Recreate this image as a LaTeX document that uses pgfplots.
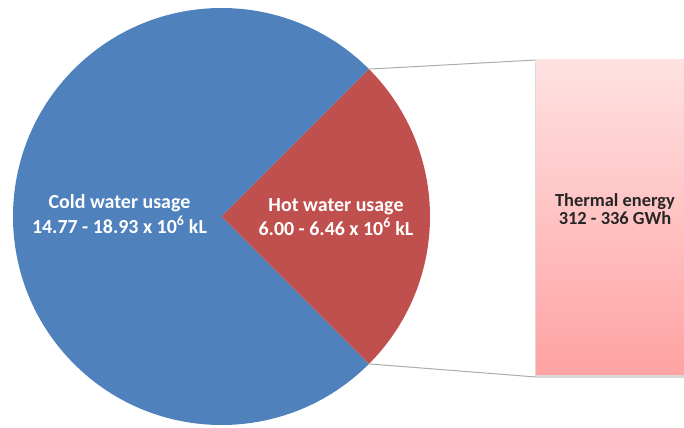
\documentclass[border=0pt]{standalone}
\usepackage{pgfplots}
\pgfplotsset{compat=1.18}
\usepackage{fontspec}
\setmainfont{Carlito}

\definecolor{coldblue}{HTML}{4F81BD}
\definecolor{hotred}{HTML}{C0504D}
\definecolor{bartop}{HTML}{FFE2E2}
\definecolor{barbot}{HTML}{FFA2A2}

% pie shares in percent
\def\coldshare{75}
\def\hotshare{25}
% pie geometry (bp)
\def\cx{221.5}
\def\cy{211.5}
\def\rad{208.5}

\begin{document}
\begin{tikzpicture}
\useasboundingbox (0,0) rectangle (684bp,428bp);
\begin{axis}[x=1bp, y=1bp, xmin=0, xmax=684, ymin=0, ymax=428,
  hide axis, clip=false]

  \pgfmathsetmacro{\ha}{\hotshare*3.6/2}
  \pgfmathsetmacro{\ca}{360-\ha}
  % cold water slice
  \fill[coldblue] (axis cs:\cx,\cy) -- ++(\ha:\rad bp)
    arc[start angle=\ha, end angle=\ca, radius=\rad bp] -- cycle;
  % hot water slice
  \fill[hotred] (axis cs:\cx,\cy) -- ++(-\ha:\rad bp)
    arc[start angle=-\ha, end angle=\ha, radius=\rad bp] -- cycle;

  % connectors to the bar
  \addplot[gray!65, line width=1bp] coordinates {(368.9,358.9) (536,368)};
  \addplot[gray!65, line width=1bp] coordinates {(368.9,64.1) (536,51)};

  % bar shadow and bar
  \addplot[draw=none, fill=black!22, opacity=0.7]
    coordinates {(534.5,50) (690,50) (690,366) (534.5,366)} -- cycle;
  \addplot[draw=none, top color=bartop, bottom color=barbot]
    coordinates {(536,53) (690,53) (690,368) (536,368)} -- cycle;

  \begin{scope}[font=\bfseries\fontsize{20}{24}\selectfont, text=white]
    \node[anchor=base] at (axis cs:119.5,220) {Cold water usage};
    \node[anchor=base] at (axis cs:119.5,195) {14.77 - 18.93 x 10\textsuperscript{6} kL};
    \node[anchor=base] at (axis cs:336,217) {Hot water usage};
    \node[anchor=base] at (axis cs:336,193) {6.00 - 6.46 x 10\textsuperscript{6} kL};
  \end{scope}
  \begin{scope}[font=\bfseries\fontsize{18.5}{22}\selectfont, text=black!85]
    \node[anchor=base] at (axis cs:615,221.5) {Thermal energy};
    \node[anchor=base] at (axis cs:615,203.5) {312 - 336 GWh};
  \end{scope}
\end{axis}
\end{tikzpicture}
\end{document}
